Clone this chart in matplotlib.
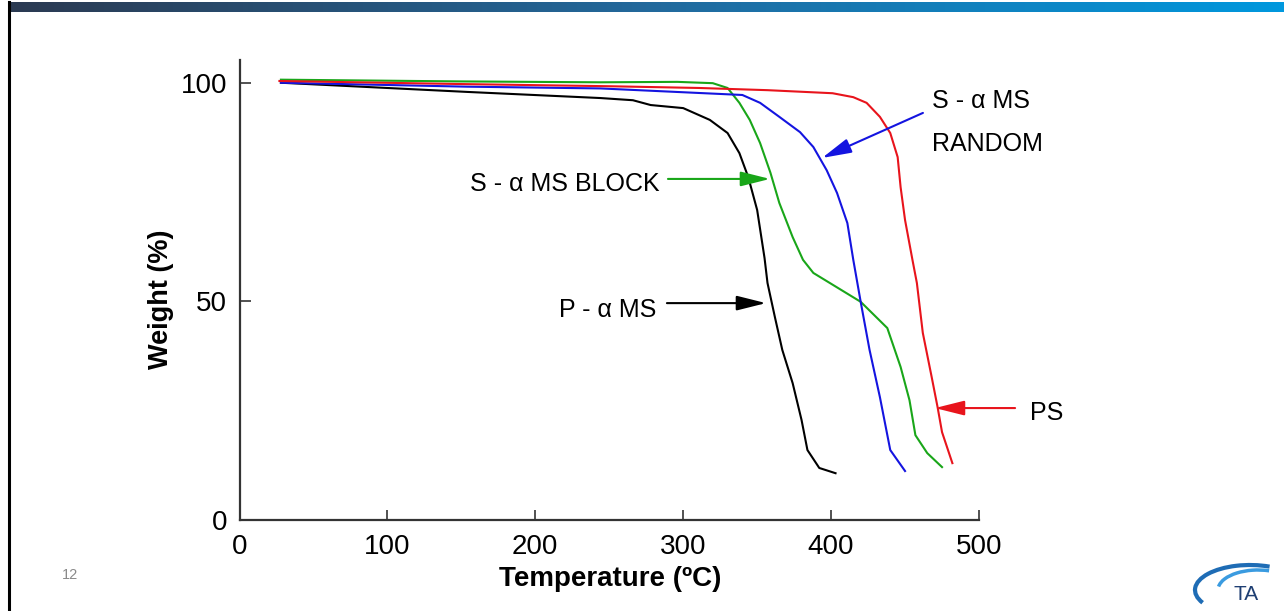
import matplotlib
matplotlib.use("Agg")
import matplotlib.pyplot as plt
import numpy as np
from matplotlib.lines import Line2D
from matplotlib.patches import Arc

plt.rcParams['font.family'] = ['Liberation Sans', 'DejaVu Sans']

# TGA curves: temperature (C), weight (%)
p_ams_T = [28, 154, 244, 266, 278, 300, 318, 330, 338, 344, 350, 355, 357, 362, 367, 374, 380, 384, 392, 403]
p_ams_W = [100.0, 97.9, 96.5, 96.0, 94.9, 94.2, 91.5, 88.5, 83.9, 78.4, 70.9, 59.9, 54.2, 46.4, 38.9, 31.3, 22.9, 16.0, 11.9, 10.7]

block_T = [28, 150, 244, 296, 320, 330, 338, 345, 352, 359, 365, 374, 381, 388, 420, 438, 447, 453, 457, 465, 475]
block_W = [100.7, 100.3, 100.1, 100.2, 99.9, 98.8, 95.4, 91.5, 86.2, 79.4, 72.5, 64.7, 59.5, 56.5, 49.9, 43.9, 35.0, 27.4, 19.4, 15.3, 12.1]

random_T = [28, 154, 244, 340, 352, 365, 379, 388, 397, 404, 411, 415, 420, 426, 433, 440, 450]
random_W = [100.0, 99.1, 98.7, 97.2, 95.4, 92.2, 88.7, 85.3, 80.0, 74.8, 67.9, 59.5, 49.9, 38.9, 28.1, 16.0, 11.2]

ps_T = [27, 150, 250, 311, 357, 401, 415, 424, 433, 440, 445, 447, 450, 455, 458, 462, 468, 472, 475, 482]
ps_W = [100.4, 99.7, 99.2, 98.8, 98.3, 97.6, 96.7, 95.4, 92.2, 88.5, 83.0, 76.1, 68.6, 59.5, 54.2, 42.8, 32.7, 25.8, 20.1, 13.0]

fig = plt.figure(figsize=(12.84, 6.11), dpi=100)

# slide decorations
bar = fig.add_axes([9/1284, 1 - 12/611, 1 - 9/1284, 10/611])
grad = np.linspace(0, 1, 256).reshape(1, -1)
cmap = matplotlib.colors.LinearSegmentedColormap.from_list('bar', ['#2b3a52', '#23699c', '#0098de'])
bar.imshow(grad, aspect='auto', cmap=cmap)
bar.axis('off')
fig.add_artist(Line2D([9/1284, 9/1284], [0, 1 - 2/611], color='black', lw=2.2))
fig.text(70/1284, 1 - 575/611, '12', fontsize=10.5, color='#8a8a8a', ha='center', va='center')

# logo
fig.text(1246/1284, 1 - 594/611, 'TA', fontsize=15, color='#1f3f73', ha='center', va='center')
fig.add_artist(Arc((1250, 611 - 590), 110, 50, theta1=50, theta2=195, color='#1e6cb5', lw=3, transform=None))
fig.add_artist(Arc((1258, 611 - 590), 80, 40, theta1=60, theta2=175, color='#3a9be0', lw=2.5, transform=None))

ax = fig.add_axes([239.5/1284, 91/611, 739.5/1284, 460/611])
ax.plot(p_ams_T, p_ams_W, color='black', lw=1.5)
ax.plot(block_T, block_W, color='#19a619', lw=1.5)
ax.plot(random_T, random_W, color='#1414e0', lw=1.5)
ax.plot(ps_T, ps_W, color='#e8141c', lw=1.5)

ax.set_xlim(0, 500)
ax.set_ylim(0, 105.2)
ax.set_xticks([0, 100, 200, 300, 400, 500])
ax.set_yticks([0, 50, 100])
for s in ['top', 'right']:
    ax.spines[s].set_visible(False)
for s in ['left', 'bottom']:
    ax.spines[s].set_linewidth(1.6)
    ax.spines[s].set_color('#333333')
ax.tick_params(axis='x', direction='in', length=7, width=1.2, labelsize=20, pad=10, color='#333333')
ax.tick_params(axis='y', direction='in', length=8, width=1.2, labelsize=20, pad=9, color='#333333')

ax.set_xlabel('Temperature (ºC)', fontsize=20, fontweight='bold')
ax.set_ylabel('Weight (%)', fontsize=19.5, fontweight='bold')
ax.xaxis.set_label_coords(0.501, -0.100)
ax.yaxis.set_label_coords(-0.089, 0.48)

# annotations
def arrow(x0, y0, x1, y1, c):
    ax.annotate('', xy=(x1, y1), xytext=(x0, y0), annotation_clip=False,
                arrowprops=dict(arrowstyle='-|>,head_length=1.8,head_width=0.45',
                                mutation_scale=10, color=c, lw=1.5, shrinkA=0, shrinkB=0))

arrow(462.1, 93.1, 393.9, 82.8, '#1414e0')
arrow(289.7, 78.0, 358.7, 78.0, '#19a619')
arrow(289.0, 49.6, 356.0, 49.6, 'black')
arrow(524.4, 25.6, 470.2, 25.6, '#e8141c')

ax.text(468.2, 94.2, 'S - α MS', fontsize=18, ha='left', va='baseline', clip_on=False)
ax.text(468.2, 84.4, 'RANDOM', fontsize=18, ha='left', va='baseline', clip_on=False)
ax.text(284.3, 75.2, 'S - α MS BLOCK', fontsize=18, ha='right', va='baseline')
ax.text(282.1, 46.4, 'P - α MS', fontsize=18, ha='right', va='baseline')
ax.text(534.5, 22.9, 'PS', fontsize=18, ha='left', va='baseline', clip_on=False)

fig.savefig('out.png', dpi=100)
